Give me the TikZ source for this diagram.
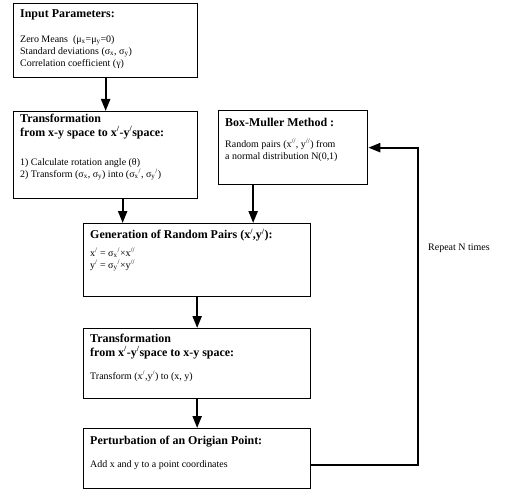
\documentclass[tikz,border=0pt]{standalone}
\usepackage{fontspec}
\setmainfont{Liberation Serif}
\usetikzlibrary{arrows.meta}
\newcommand{\pr}{\textsuperscript{/}}
\newcommand{\ppr}{\textsuperscript{//}}
\newcommand{\sbx}{\textsubscript{x}}
\newcommand{\sby}{\textsubscript{y}}
\begin{document}
\begin{tikzpicture}[x=1bp,y=-1bp,
  box/.style={draw, line width=1.3bp, anchor=north west, inner sep=0},
  ttl/.style={anchor=north west, inner sep=0, align=left, font=\fontsize{12}{13.5}\selectfont\bfseries},
  bdy/.style={anchor=north west, inner sep=0, align=left, font=\fontsize{10}{12}\selectfont},
  arr/.style={line width=2.2bp, -{Triangle[length=12bp,width=9bp]}}]
\useasboundingbox (0,0) rectangle (521,498);
% boxes
\node[box, minimum width=184bp, minimum height=74bp] (b1) at (13,3) {};
\node[box, minimum width=184bp, minimum height=87bp] (b2) at (13,111) {};
\node[box, minimum width=149bp, minimum height=74bp] (bm) at (218,110) {};
\node[box, minimum width=227bp, minimum height=73bp] (b3) at (83,223) {};
\node[box, minimum width=227bp, minimum height=70bp] (b4) at (83,328) {};
\node[box, minimum width=227bp, minimum height=60bp] (b5) at (83,428) {};
% texts
\node[ttl] (t1) at (20,9) {Input Parameters:};
\node[bdy] (d1) at (20,35) {Zero Means~ (μ\sbx=μ\sby=0)\\Standard deviations (σ\sbx, σ\sby)\\Correlation coefficient (γ)};
\node[ttl] (t2) at (20,114) {Transformation\\from x-y space to x\pr-y\pr space:};
\node[bdy] (d2) at (20,158) {1) Calculate rotation angle (θ)\\2) Transform (σ\sbx, σ\sby) into (σ\sbx\pr, σ\sby\pr)};
\node[ttl] (t3) at (225,118) {Box-Muller Method :};
\node[bdy] (d3) at (225,139) {Random pairs (x\ppr, y\ppr) from\\a normal distribution N(0,1)};
\node[ttl] (t4) at (90,229) {Generation of Random Pairs (x\pr,y\pr):};
\node[bdy] (d4) at (90,248) {x\pr\ = σ\sbx\pr×x\ppr\\y\pr\ = σ\sby\pr×y\ppr};
\node[ttl] (t5) at (90,334) {Transformation\\from x\pr-y\pr space to x-y space:};
\node[bdy] (d5) at (90,371) {Transform (x\pr,y\pr) to (x, y)};
\node[ttl] (t6) at (90,436) {Perturbation of an Origian Point:};
\node[bdy] (d6) at (90,460) {Add x and y to a point coordinates};
\node[bdy, anchor=west] (rep) at (428,248) {Repeat N times};
% connectors
\draw[arr] (b1.south) -- (b2.north);
\draw[arr] ([xshift=17bp]b2.south) -- ([xshift=17bp]b2.south |- b3.north);
\draw[arr] ([xshift=-40bp]bm.south) -- ([xshift=-40bp]bm.south |- b3.north);
\draw[arr] (b3.south) -- (b4.north);
\draw[arr] (b4.south) -- (b5.north);
\draw[arr] ([yshift=-6bp]b5.east) -| ([xshift=50bp]bm.east) -- (bm.east);
\end{tikzpicture}
\end{document}
